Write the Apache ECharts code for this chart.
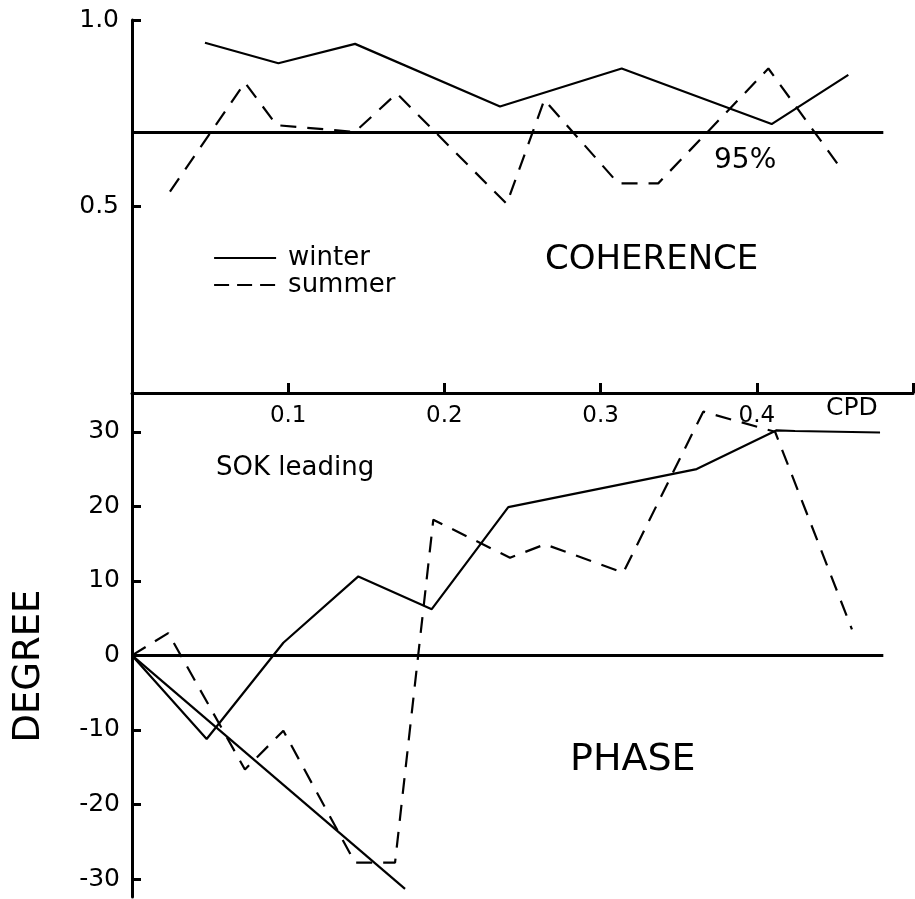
<!DOCTYPE html>
<html>
<head>
<meta charset="utf-8">
<script src="https://cdn.jsdelivr.net/npm/echarts@6/dist/echarts.min.js"></script>
<style>
  html, body { margin: 0; padding: 0; background: #fff; }
  #chart { width: 915px; height: 899px; }
</style>
</head>
<body>
<div id="chart"></div>
<script>
// Frequency in cycles per day (CPD); coherence (0-1) and phase (degrees).
const cohWinter = [[0.0467, 0.939], [0.0937, 0.884], [0.1428, 0.936], [0.2356, 0.768],
                   [0.3135, 0.870], [0.4095, 0.721], [0.4586, 0.853]];
const cohSummer = [[0.0243, 0.540], [0.0723, 0.832], [0.0926, 0.718], [0.1428, 0.700],
                   [0.1695, 0.803], [0.2399, 0.507], [0.2640, 0.786], [0.3113, 0.562],
                   [0.3369, 0.562], [0.4074, 0.870], [0.4554, 0.593]];
const phaseWinter = [[0, 0], [0.0478, -11.2], [0.0969, 1.7], [0.1449, 10.6], [0.1919, 6.2],
                     [0.2409, 19.9], [0.3615, 25.0], [0.4127, 30.2], [0.4245, 30.1], [0.4789, 29.9]];
const phaseSummer = [[0, 0], [0.0232, 3.0], [0.0723, -15.3], [0.0969, -10.1], [0.1428, -27.8],
                     [0.1684, -27.8], [0.1929, 18.2], [0.2420, 13.1], [0.2644, 14.9],
                     [0.3145, 11.1], [0.3657, 32.7], [0.4117, 30.0], [0.4609, 3.5]];
// straight constant-lag reference line in the phase panel
const phaseLag = [[0, 0], [0.1748, -31.3]];

const coherence95 = 0.70;        // 95% significance level
const refLineEnd = 0.481;        // right end of the horizontal reference lines
const freqTicks = [0.1, 0.2, 0.3, 0.4, 0.5];
const freqLabels = [0.1, 0.2, 0.3, 0.4];
const cohTicks = [0.5, 1.0];
const phaseTicks = [-30, -20, -10, 0, 10, 20, 30];

const FONT = 'DejaVu Sans';
const INK = '#000';

const chart = echarts.init(document.getElementById('chart'), null, { renderer: 'canvas' });

const axisLine = { show: true, onZero: false, lineStyle: { color: INK, width: 3 } };

function lineSeries(name, data, x, y, dashed) {
  return {
    name: name,
    type: 'line',
    xAxisIndex: x,
    yAxisIndex: y,
    data: data,
    symbol: 'none',
    silent: true,
    lineStyle: { color: INK, width: 2.2, type: dashed ? [16, 11] : 'solid' },
    itemStyle: { color: INK }
  };
}

function refLine(value) {
  return {
    silent: true,
    symbol: 'none',
    label: { show: false },
    lineStyle: { color: INK, width: 3, type: 'solid' },
    data: [[{ coord: [0, value] }, { coord: [refLineEnd, value] }]]
  };
}

const winterCoh = lineSeries('winter', cohWinter, 0, 0, false);
winterCoh.markLine = refLine(coherence95);
const winterPhase = lineSeries('winter', phaseWinter, 1, 1, false);
winterPhase.markLine = refLine(0);

const option = {
  backgroundColor: '#fff',
  animation: false,
  grid: [
    { left: 132, right: 2, top: 20, height: 373 },
    { left: 132, right: 2, top: 393, height: 504 }
  ],
  xAxis: [
    {
      gridIndex: 0, type: 'value', min: 0, max: 0.5, position: 'bottom',
      axisLine: axisLine,
      axisTick: { show: true, inside: true, length: 10, lineStyle: { color: INK, width: 3 },
                  customValues: freqTicks },
      axisLabel: { show: true, customValues: freqLabels, margin: 12, color: INK,
                   fontFamily: FONT, fontSize: 23, formatter: v => v.toFixed(1) },
      splitLine: { show: false }
    },
    {
      gridIndex: 1, type: 'value', min: 0, max: 0.5, show: false
    }
  ],
  yAxis: [
    {
      gridIndex: 0, type: 'value', min: 0, max: 1,
      axisLine: axisLine,
      axisTick: { show: true, inside: true, length: 9, lineStyle: { color: INK, width: 3 },
                  customValues: cohTicks },
      axisLabel: { show: true, customValues: cohTicks, margin: 13, color: INK,
                   fontFamily: FONT, fontSize: 25, formatter: v => v.toFixed(1) },
      splitLine: { show: false }
    },
    {
      gridIndex: 1, type: 'value', min: -32.4, max: 35.2,
      axisLine: axisLine,
      axisTick: { show: true, inside: true, length: 9, lineStyle: { color: INK, width: 3 },
                  customValues: phaseTicks },
      axisLabel: { show: true, customValues: phaseTicks, margin: 12, color: INK,
                   fontFamily: FONT, fontSize: 25, formatter: v => String(v) },
      splitLine: { show: false }
    }
  ],
  legend: {
    orient: 'vertical',
    left: 208,
    top: 240,
    itemWidth: 62,
    itemHeight: 14,
    itemGap: 1,
    selectedMode: false,
    itemStyle: { opacity: 0 },
    textStyle: { color: INK, fontFamily: FONT, fontSize: 26, lineHeight: 22, padding: [0, 0, 0, 7] },
    data: [
      { name: 'winter', itemStyle: { opacity: 0 }, lineStyle: { type: 'solid', width: 2.2, color: INK } },
      { name: 'summer', itemStyle: { opacity: 0 }, lineStyle: { type: [15, 8], width: 2.2, color: INK } }
    ]
  },
  graphic: [
    { type: 'text', left: 545, top: 243,
      style: { text: 'COHERENCE', fill: INK, font: '34px "DejaVu Sans"' } },
    { type: 'text', left: 570, top: 741,
      style: { text: 'PHASE', fill: INK, font: '38px "DejaVu Sans"' } },
    { type: 'text', left: 714, top: 147,
      style: { text: '95%', fill: INK, font: '28px "DejaVu Sans"' } },
    { type: 'text', left: 826, top: 396,
      style: { text: 'CPD', fill: INK, font: '25px "DejaVu Sans"' } },
    { type: 'text', left: 216, top: 455,
      style: { text: 'SOK leading', fill: INK, font: '26px "DejaVu Sans"' } },
    { type: 'text', x: 29, y: 666, rotation: Math.PI / 2,
      style: { text: 'DEGREE', fill: INK, font: '37px "DejaVu Sans"', align: 'center', verticalAlign: 'middle' } }
  ],
  series: [
    winterCoh,
    lineSeries('summer', cohSummer, 0, 0, true),
    winterPhase,
    lineSeries('summer', phaseSummer, 1, 1, true),
    lineSeries('lag', phaseLag, 1, 1, false)
  ]
};

chart.setOption(option);
</script>
</body>
</html>
